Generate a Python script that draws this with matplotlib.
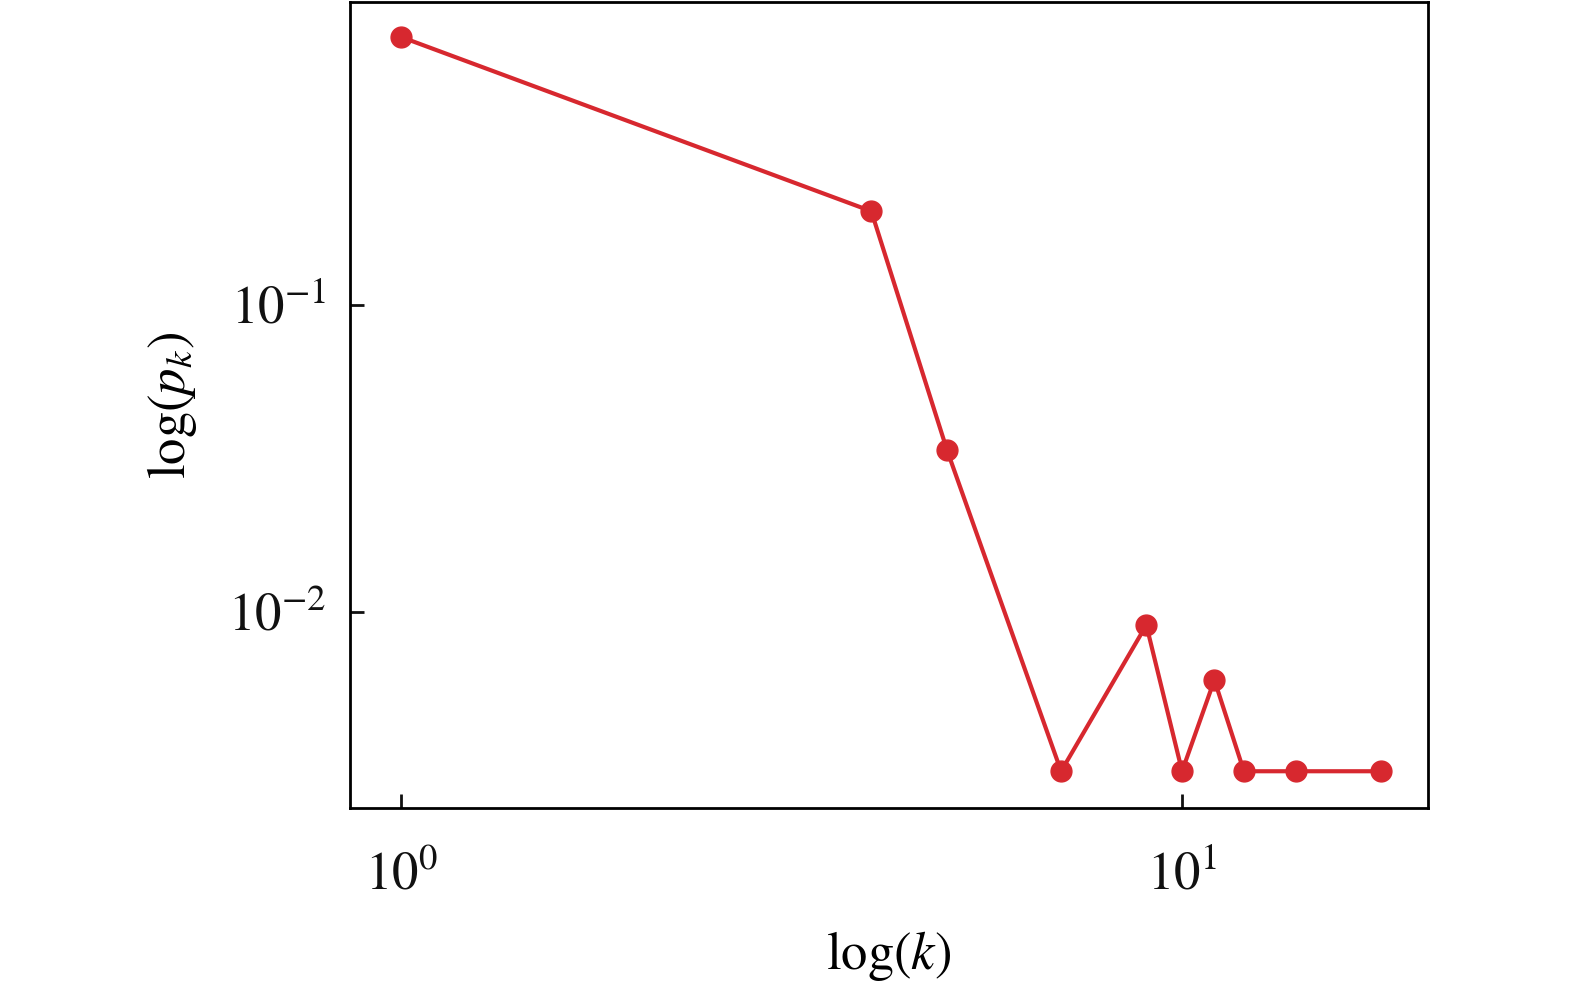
import matplotlib
matplotlib.use("Agg")
import matplotlib.pyplot as plt
from matplotlib.ticker import LogLocator, NullLocator

plt.rcParams['font.family'] = ['STIXGeneral', 'Liberation Serif', 'DejaVu Serif']
plt.rcParams['mathtext.fontset'] = 'stix'
plt.rcParams['mathtext.default'] = 'rm'

k_values = [1, 4, 5, 7, 9, 10, 11, 12, 14, 18]
pk_values = [0.746, 0.202, 0.0337, 0.00303, 0.00907, 0.00303, 0.00601, 0.00303, 0.00303, 0.00303]

fig = plt.figure(figsize=(15.75, 9.85), dpi=100)
ax = fig.add_axes([350/1575, (985-808)/985, (1428-350)/1575, (808-2)/985])

ax.plot(k_values, pk_values, color='#d7282f', linewidth=3.0, marker='o',
        markersize=15, markerfacecolor='#d7282f', markeredgecolor='#d7282f')
ax.set_xscale('log')
ax.set_yscale('log')
ax.set_xlim(0.860, 20.65)
ax.set_ylim(0.0023, 0.970)
ax.xaxis.set_major_locator(LogLocator(base=10))
ax.yaxis.set_major_locator(LogLocator(base=10))
ax.xaxis.set_minor_locator(NullLocator())
ax.yaxis.set_minor_locator(NullLocator())

for s in ax.spines.values():
    s.set_linewidth(2.0)
    s.set_color('black')

ax.tick_params(axis='both', which='major', direction='in', length=10, width=2,
               labelsize=38, colors='#111111')
ax.tick_params(axis='x', pad=32)
ax.tick_params(axis='y', pad=17)

ax.set_xlabel(r'log($\mathit{k}$)', fontsize=38, labelpad=20)
ax.set_ylabel(r'log($\mathit{p_k}$)', fontsize=38, labelpad=21)

fig.savefig('out.png', dpi=100)
